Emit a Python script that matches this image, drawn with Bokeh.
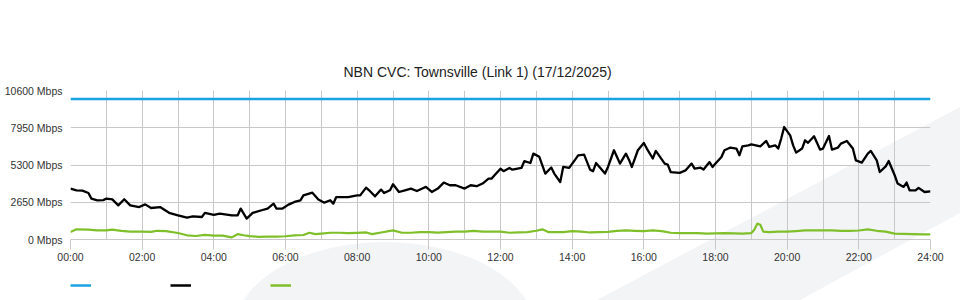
from bokeh.plotting import figure
from bokeh.layouts import column
from bokeh.models import Range1d, FixedTicker, Legend, LegendItem
from bokeh.embed import file_html
from bokeh.resources import INLINE

title_text = "NBN CVC: Townsville (Link 1) (17/12/2025)"
y_ticks = [0, 2650, 5300, 7950, 10600]
y_tick_labels = ["0 Mbps", "2650 Mbps", "5300 Mbps", "7950 Mbps", "10600 Mbps"]
x_ticks = [0, 2, 4, 6, 8, 10, 12, 14, 16, 18, 20, 22, 24]
x_tick_labels = ["00:00", "02:00", "04:00", "06:00", "08:00", "10:00", "12:00",
                 "14:00", "16:00", "18:00", "20:00", "22:00", "24:00"]
grid_hours = list(range(0, 25))

capacity_times = ["00:00", "24:00"]
capacity_values = [10000, 10000]

download_times = [
    "00:00", "00:10", "00:20", "00:30", "00:35", "00:45", "00:55", "01:00", "01:10", "01:20",
    "01:30", "01:40", "01:55", "02:05", "02:15", "02:30", "02:45", "03:00", "03:15", "03:25",
    "03:40", "03:45", "04:00", "04:10", "04:30", "04:40", "04:45", "04:55", "05:05", "05:20",
    "05:30", "05:40", "05:45", "05:55", "06:05", "06:15", "06:25", "06:30", "06:45", "06:55",
    "07:05", "07:15", "07:20", "07:25", "07:45", "08:00", "08:05", "08:15", "08:20", "08:30",
    "08:40", "08:45", "08:55", "09:00", "09:10", "09:20", "09:30", "09:40", "09:50", "09:55",
    "10:05", "10:15", "10:25", "10:35", "10:45", "11:00", "11:10", "11:20", "11:30", "11:40",
    "11:45", "11:50", "12:00", "12:05", "12:15", "12:20", "12:35", "12:40", "12:50", "12:55",
    "13:05", "13:15", "13:25", "13:30", "13:40", "13:45", "13:55", "14:05", "14:10", "14:20",
    "14:30", "14:35", "14:40", "14:45", "14:55", "15:00", "15:10", "15:20", "15:30", "15:35",
    "15:40", "15:50", "16:00", "16:05", "16:15", "16:20", "16:35", "16:40", "16:45", "17:00",
    "17:10", "17:20", "17:25", "17:35", "17:40", "17:50", "17:55", "18:00", "18:10", "18:15",
    "18:25", "18:35", "18:40", "18:45", "18:55", "19:00", "19:15", "19:25", "19:30", "19:40",
    "19:45", "19:50", "19:55", "20:05", "20:10", "20:15", "20:25", "20:30", "20:35", "20:45",
    "20:55", "21:00", "21:10", "21:15", "21:25", "21:30", "21:40", "21:50", "21:55", "22:05",
    "22:15", "22:20", "22:30", "22:35", "22:45", "22:50", "23:00", "23:05", "23:15", "23:20",
    "23:25", "23:35", "23:40", "23:50", "24:00"]
download_values = [
    3620, 3500, 3480, 3310, 2910, 2790, 2800, 2910, 2850, 2430,
    2860, 2430, 2310, 2500, 2240, 2310, 1900, 1720, 1560, 1650,
    1600, 1890, 1760, 1840, 1720, 1720, 2200, 1490, 1890, 2080,
    2200, 2550, 2200, 2200, 2480, 2670, 2790, 3140, 3330, 2840,
    2620, 2790, 2550, 3020, 3020, 3140, 3140, 3690, 3500, 3070,
    3550, 3310, 3500, 3930, 3380, 3500, 3620, 3450, 3650, 3740,
    3380, 3620, 4050, 3860, 3860, 3620, 3860, 3790, 3980, 4330,
    4330, 4570, 5040, 4860, 5090, 4970, 5090, 5580, 5440, 6110,
    5880, 4690, 5120, 4690, 4090, 5160, 5090, 5680, 5990, 6040,
    4970, 4860, 5440, 5200, 4690, 5160, 6350, 5400, 6110, 5680,
    5160, 6350, 6870, 6470, 5760, 6300, 5400, 5330, 4800, 4740,
    4920, 5400, 5040, 5110, 4980, 5510, 5160, 5400, 5870, 6350,
    6540, 6470, 5990, 6630, 6700, 6770, 6630, 7010, 6590, 6700,
    6470, 7180, 8000, 7410, 6700, 6180, 6470, 7060, 6880, 7340,
    6400, 6470, 7360, 6400, 6540, 6820, 7010, 6470, 5630, 5470,
    6110, 6300, 5630, 4800, 5200, 5580, 4570, 3980, 3740, 4050,
    3500, 3500, 3670, 3380, 3420]

upload_times = [
    "00:00", "00:10", "00:30", "00:45", "01:00", "01:10", "01:25", "01:40", "02:00", "02:15",
    "02:25", "02:40", "03:00", "03:15", "03:30", "03:45", "04:00", "04:15", "04:30", "04:40",
    "04:50", "05:00", "05:15", "05:30", "05:45", "06:00", "06:15", "06:30", "06:40", "06:50",
    "07:00", "07:15", "07:30", "07:45", "08:00", "08:15", "08:25", "08:40", "09:00", "09:15",
    "09:30", "09:45", "10:00", "10:15", "10:30", "10:45", "11:00", "11:15", "11:30", "11:45",
    "12:00", "12:15", "12:30", "12:45", "13:00", "13:10", "13:20", "13:45", "14:00", "14:15",
    "14:30", "14:45", "15:00", "15:15", "15:30", "15:45", "16:00", "16:15", "16:30", "16:45",
    "17:00", "17:15", "17:30", "17:45", "18:00", "18:15", "18:30", "18:45", "19:00", "19:05",
    "19:10", "19:15", "19:20", "19:30", "19:45", "20:00", "20:15", "20:30", "20:45", "21:00",
    "21:15", "21:30", "21:45", "22:00", "22:15", "22:30", "22:45", "23:00", "23:15", "23:30",
    "23:45", "24:00"]
upload_values = [
    540, 725, 700, 650, 650, 700, 620, 560, 560, 540,
    620, 600, 460, 300, 250, 330, 270, 270, 150, 380,
    300, 240, 190, 200, 210, 230, 300, 320, 480, 380,
    420, 480, 480, 450, 470, 500, 380, 500, 650, 480,
    480, 520, 520, 490, 520, 560, 560, 620, 560, 560,
    560, 480, 500, 530, 620, 725, 530, 530, 600, 560,
    500, 530, 540, 620, 650, 620, 600, 650, 600, 480,
    460, 460, 460, 420, 430, 450, 440, 420, 460, 700,
    1130, 1050, 560, 530, 560, 560, 600, 650, 650, 650,
    650, 620, 620, 640, 720, 620, 560, 420, 400, 380,
    360, 360]


def to_hours(labels):
    out = []
    for s in labels:
        h, m = s.split(":")
        out.append(int(h) + int(m) / 60.0)
    return out


FONT = "Liberation Sans"
CAP_COLOR, DL_COLOR, UL_COLOR = "#1ba3e1", "#000000", "#7fbf2a"

# decorative light-grey swoosh behind the chart (CSS background of the layout element)
bg_svg = ("<svg xmlns='http://www.w3.org/2000/svg' width='960' height='300'>"
          "<ellipse cx='385' cy='330' rx='150' ry='88' fill='%23f3f4f6'/>"
          "<polygon points='597,300 960,107 960,213 800,300' fill='%23f3f4f6'/>"
          "</svg>")

p = figure(width=960, height=270, output_backend="svg", toolbar_location=None,
           x_range=Range1d(0, 24), y_range=Range1d(0, 10600),
           min_border_left=70, min_border_right=30, min_border_top=90, min_border_bottom=31)
p.background_fill_alpha = 0
p.border_fill_alpha = 0
p.outline_line_color = None

# title
p.title.text = title_text
p.title.align = "left"
p.title.offset = 273
p.title.text_font = FONT
p.title.text_font_size = "14px"
p.title.text_font_style = "normal"
p.title.text_color = "#222222"
p.title.standoff = 21

# grids
p.xgrid.ticker = FixedTicker(ticks=grid_hours)
p.ygrid.ticker = FixedTicker(ticks=y_ticks)
for g in (p.xgrid, p.ygrid):
    g.grid_line_color = "#c8c8c8"
    g.grid_line_width = 1

# axes
p.xaxis.ticker = FixedTicker(ticks=x_ticks)
p.xaxis.major_label_overrides = {t_: l for t_, l in zip(x_ticks, x_tick_labels)}
p.xaxis.axis_line_color = "#c8c8c8"
p.xaxis.major_tick_line_color = "#c8c8c8"
p.xaxis.major_tick_out = 10
p.xaxis.major_tick_in = 0
p.xaxis.minor_tick_line_color = None
p.xaxis.major_label_standoff = 1
p.xaxis.major_label_text_font = FONT
p.xaxis.major_label_text_font_size = "10.5px"
p.xaxis.major_label_text_color = "#333333"

p.yaxis.ticker = FixedTicker(ticks=y_ticks)
p.yaxis.major_label_overrides = {t_: l for t_, l in zip(y_ticks, y_tick_labels)}
p.yaxis.axis_line_color = None
p.yaxis.major_tick_line_color = None
p.yaxis.minor_tick_line_color = None
p.yaxis.major_tick_out = 0
p.yaxis.major_tick_in = 0
p.yaxis.major_label_standoff = 8
p.yaxis.major_label_text_font = FONT
p.yaxis.major_label_text_font_size = "10.5px"
p.yaxis.major_label_text_color = "#333333"

# series
p.line(to_hours(capacity_times), capacity_values, line_color=CAP_COLOR, line_width=2.5)
p.line(to_hours(download_times), download_values, line_color=DL_COLOR, line_width=2.3,
       line_join="round")
p.line(to_hours(upload_times), upload_values, line_color=UL_COLOR, line_width=2.2,
       line_join="round")

# legend strip below the chart (series swatches only, no labels); its frame is aligned
# with the main chart's frame by the column layout
pl = figure(width=960, height=30, output_backend="svg", toolbar_location=None,
            x_axis_type=None, y_axis_type=None, x_range=Range1d(0, 24), y_range=Range1d(0, 10600),
            min_border=0)
pl.background_fill_alpha = 0
pl.border_fill_alpha = 0
pl.outline_line_color = None
pl.xgrid.visible = False
pl.ygrid.visible = False
l_cap = pl.line(to_hours(capacity_times), capacity_values, line_color=CAP_COLOR, line_width=2.5,
                visible=False)
l_dl = pl.line(to_hours(download_times), download_values, line_color=DL_COLOR, line_width=2.5,
               visible=False)
l_ul = pl.line(to_hours(upload_times), upload_values, line_color=UL_COLOR, line_width=2.5,
               visible=False)
legend = Legend(items=[LegendItem(label=" ", renderers=[l_cap]),
                       LegendItem(label=" ", renderers=[l_dl]),
                       LegendItem(label=" ", renderers=[l_ul])],
                orientation="horizontal", location=(0, 10),
                glyph_width=21, glyph_height=10, label_standoff=0, label_width=79,
                label_height=10, label_text_font_size="8px", spacing=0,
                padding=0, margin=0, background_fill_alpha=0, border_line_alpha=0)
pl.add_layout(legend, "center")

layout = column(p, pl, spacing=0)
layout.styles = {"background-color": "white",
                 "background-image": 'url("data:image/svg+xml;utf8,' + bg_svg + '")',
                 "background-repeat": "no-repeat",
                 "background-size": "960px 300px"}

open("out.html", "w").write(file_html(layout, INLINE))
